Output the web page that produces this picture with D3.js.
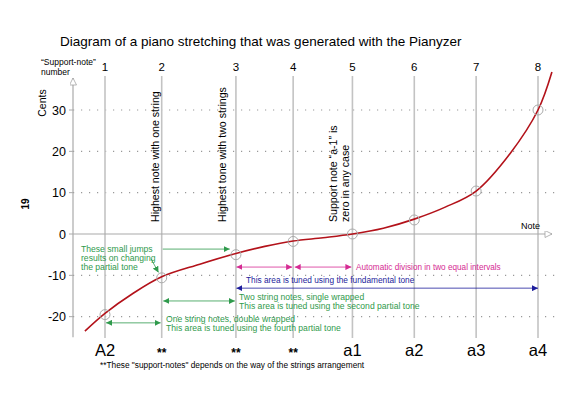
<!DOCTYPE html>
<html>
<head>
<meta charset="utf-8">
<script src="https://cdn.jsdelivr.net/npm/d3@7"></script>
<style>
  body { margin: 0; background: #fff; }
  text { font-family: "Liberation Sans", Arial, sans-serif; }
</style>
</head>
<body>
<div id="chart"></div>
<script>
// chart values
var supportNumbers = [1, 2, 3, 4, 5, 6, 7, 8];
var supportKeys = [1, 12, 26.4, 37.5, 49, 61, 73, 85];      // piano key index
var supportNames = ["A2", "**", "**", "**", "a1", "a2", "a3", "a4"];
var supportCents = [-19.5, -10.6, -5.0, -1.8, 0, 3.4, 10.4, 30];

// stretching curve
var curveKeys = [-2.9, 1, 6.4, 11.9, 19.4, 26.4, 32, 37.5, 43.3, 49, 55, 61, 67, 73, 79.6, 85, 87.7];
var curveCents = [-23.5, -19.2, -14.4, -10.4, -7.3, -4.7, -3.0, -1.7, -0.9, 0, 1.4, 3.6, 6.5, 10.4, 19.5, 30, 39.2];

var centTicks = [-20, -10, 0, 10, 20, 30];

var svgWidth = 575;
var svgHeight = 398;

var svg = d3.select("#chart")
  .append("svg")
  .attr("width", svgWidth)
  .attr("height", svgHeight);

var x = d3.scaleLinear().domain([1, 85]).range([105, 538]);
var y = d3.scaleLinear().domain([0, 30]).range([234, 110]);

var axisX = 73;
var plotTop = 76, plotBottom = 338;

var green = "#2f9a4c", magenta = "#d52b93", blue = "#1d1d9c";

// arrow markers
var defs = svg.append("defs");
function marker(id, color, open) {
  defs.append("marker")
    .attr("id", id)
    .attr("viewBox", "0 0 10 10")
    .attr("refX", 10).attr("refY", 5)
    .attr("markerWidth", open ? 9 : 6)
    .attr("markerHeight", open ? 7 : 6)
    .attr("markerUnits", "userSpaceOnUse")
    .attr("orient", "auto-start-reverse")
    .append("path")
    .attr("d", "M0,0L10,5L0,10z")
    .attr("fill", open ? "#fff" : color)
    .attr("stroke", open ? color : "none")
    .attr("stroke-width", 1);
}
marker("ag", green);
marker("am", magenta);
marker("ab", blue);
marker("ax", "#999", true);

// title
svg.append("text")
  .attr("x", 60).attr("y", 46)
  .style("font-size", "13.5px")
  .text("Diagram of a piano stretching that was generated with the Pianyzer");

// dotted horizontal grid
svg.append("g").selectAll("line")
  .data(centTicks.filter(d => d !== 0))
  .enter().append("line")
  .attr("x1", axisX).attr("x2", 556)
  .attr("y1", d => y(d)).attr("y2", d => y(d))
  .attr("stroke", "#999")
  .attr("stroke-width", 1.2)
  .attr("stroke-dasharray", "1.2,6.8");

// vertical support-note lines
svg.append("g").selectAll("line")
  .data(supportKeys)
  .enter().append("line")
  .attr("x1", d => x(d)).attr("x2", d => x(d))
  .attr("y1", plotTop).attr("y2", plotBottom)
  .attr("stroke", "#c3c3c3")
  .attr("stroke-width", 1.6);

// y axis
svg.append("line")
  .attr("x1", axisX).attr("x2", axisX)
  .attr("y1", y(-25)).attr("y2", 78)
  .attr("stroke", "#aaa").attr("stroke-width", 1.2)
  .attr("marker-end", "url(#ax)");

svg.append("g").selectAll("line")
  .data(centTicks)
  .enter().append("line")
  .attr("x1", axisX - 4).attr("x2", axisX)
  .attr("y1", d => y(d)).attr("y2", d => y(d))
  .attr("stroke", "#aaa");

svg.append("g").selectAll("text")
  .data(centTicks)
  .enter().append("text")
  .attr("x", axisX - 7)
  .attr("y", d => y(d) + 4.5)
  .attr("text-anchor", "end")
  .style("font-size", "12.5px")
  .text(d => d);

// zero / note axis
svg.append("line")
  .attr("x1", axisX).attr("x2", 552)
  .attr("y1", y(0)).attr("y2", y(0))
  .attr("stroke", "#aaa").attr("stroke-width", 1.2)
  .attr("marker-end", "url(#ax)");

svg.append("text")
  .attr("x", 521).attr("y", 229)
  .style("font-size", "9px")
  .text("Note");

// y label
svg.append("text")
  .attr("transform", "translate(46,103) rotate(-90)")
  .attr("text-anchor", "middle")
  .style("font-size", "10.5px")
  .text("Cents");

svg.append("text")
  .attr("transform", "translate(29,204) rotate(-90)")
  .attr("text-anchor", "middle")
  .style("font-size", "10px")
  .style("font-weight", "bold")
  .text("19");

// support-note number header
svg.append("text")
  .attr("x", 41).attr("y", 65)
  .style("font-size", "8.5px")
  .text("\u201cSupport-note\u201d");
svg.append("text")
  .attr("x", 41).attr("y", 75)
  .style("font-size", "8.5px")
  .text("number");

svg.append("g").selectAll("text")
  .data(supportNumbers)
  .enter().append("text")
  .attr("x", (d, i) => x(supportKeys[i]))
  .attr("y", 71)
  .attr("text-anchor", "middle")
  .style("font-size", "11.5px")
  .text(d => d);

// note names below
svg.append("g").selectAll("text")
  .data(supportNames)
  .enter().append("text")
  .attr("x", (d, i) => x(supportKeys[i]))
  .attr("y", d => d === "**" ? 357 : 356)
  .attr("text-anchor", "middle")
  .style("font-size", d => d === "**" ? "12px" : "16.5px")
  .style("font-weight", d => d === "**" ? "bold" : "normal")
  .text(d => d);

svg.append("text")
  .attr("x", 100).attr("y", 368)
  .style("font-size", "8.3px")
  .text("**These \"support-notes\" depends on the way of the strings arrangement");

// rotated black notes
function vtext(px, lines) {
  lines.forEach(function(t, i) {
    svg.append("text")
      .attr("transform", `translate(${px + i * 12},222) rotate(-90)`)
      .style("font-size", "10.6px")
      .text(t);
  });
}
vtext(x(supportKeys[1]) - 3, ["Highest note with one string"]);
vtext(x(supportKeys[2]) - 10, ["Highest tone with two strings"]);
vtext(x(supportKeys[4]) - 15, ["Support note \u201ca-1\u201d is", "zero in any case"]);

// stretching curve
var line = d3.line()
  .x(d => x(d[0]))
  .y(d => y(d[1]))
  .curve(d3.curveCatmullRom);

svg.append("path")
  .datum(curveKeys.map((k, i) => [k, curveCents[i]]))
  .attr("d", line)
  .attr("fill", "none")
  .attr("stroke", "#b3121a")
  .attr("stroke-width", 1.6);

// support-note circles
svg.append("g").selectAll("circle")
  .data(supportKeys)
  .enter().append("circle")
  .attr("cx", d => x(d))
  .attr("cy", (d, i) => y(supportCents[i]))
  .attr("r", 5)
  .attr("fill", "none")
  .attr("stroke", "#aaa")
  .attr("stroke-width", 1);

// arrows
function arrow(k1, k2, c, color, id, both) {
  svg.append("line")
    .attr("x1", x(k1)).attr("x2", x(k2))
    .attr("y1", y(c)).attr("y2", y(c))
    .attr("stroke", color).attr("stroke-width", 0.8)
    .attr("marker-end", `url(#${id})`)
    .attr("marker-start", both ? `url(#${id})` : null);
}
function label(px, c, lines, color, size) {
  lines.forEach(function(t, i) {
    svg.append("text")
      .attr("x", px).attr("y", y(c) + i * 9)
      .attr("fill", color)
      .style("font-size", size || "8.2px")
      .text(t);
  });
}

// small jumps note
label(81, -4.3, ["These small jumps", "results on changing", "the partial tone"], green, "8.6px");
arrow(12.2, 25.2, -3.65, green, "ag");
svg.append("line")
  .attr("x1", 151).attr("y1", y(-6.0))
  .attr("x2", 158.5).attr("y2", y(-9.3))
  .attr("stroke", green).attr("stroke-width", 0.8)
  .attr("marker-end", "url(#ag)");

// magenta
arrow(26.5, 37.3, -8.0, magenta, "am", true);
arrow(37.8, 48.8, -8.0, magenta, "am", true);
label(356, -8.75, ["Automatic division in two equal intervals"], magenta);

// blue
arrow(26.5, 85, -13.1, blue, "ab", true);
label(246, -11.8, ["This area is tuned using the fundamental tone"], blue, "8.3px");

// green
arrow(12.3, 26.2, -16.2, green, "ag", true);
label(239, -16.0, ["Two string notes, single wrapped", "This area is tuned using the second partial tone"], green, "8.6px");
arrow(1.2, 11.8, -21.5, green, "ag", true);
label(166, -21.4, ["One string notes, double wrapped", "This area is tuned using the fourth partial tone"], green, "8.6px");
</script>
</body>
</html>
